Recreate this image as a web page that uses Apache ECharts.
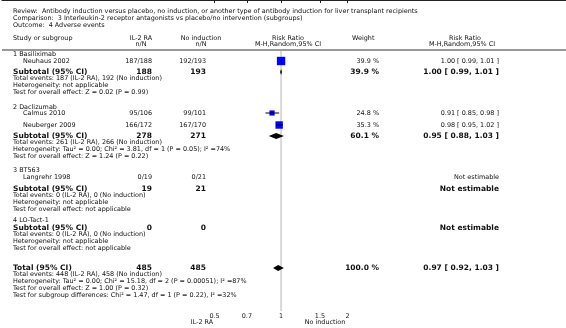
<!DOCTYPE html>
<html>
<head>
<meta charset="utf-8">
<script src="https://cdn.jsdelivr.net/npm/echarts@6/dist/echarts.min.js"></script>
<style>html,body{margin:0;padding:0;background:#fff}#forest{width:566px;height:328px}</style>
</head>
<body>
<div id="forest"></div>
<script>
// studies
var study_names = ['Neuhaus 2002', 'Calmus 2010', 'Neuberger 2009', 'Langrehr 1998'];
var il2_events = [187, 95, 166, 0];
var il2_total = [188, 106, 172, 19];
var noind_events = [192, 99, 167, 0];
var noind_total = [193, 101, 170, 21];
var study_weight = [39.9, 24.8, 35.3, null];
var study_rr = [1.00, 0.91, 0.98, null];
var study_lo = [0.99, 0.85, 0.95, null];
var study_hi = [1.01, 0.98, 1.02, null];

// subgroups
var group_names = ['1 Basiliximab', '2 Daclizumab', '3 BT563', '4 LO-Tact-1'];
var group_studies = [[0], [1, 2], [3], []];
var group_il2_total = [188, 278, 19, 0];
var group_noind_total = [193, 271, 21, 0];
var group_weight = [39.9, 60.1, null, null];
var group_rr = [1.00, 0.95, null, null];
var group_lo = [0.99, 0.88, null, null];
var group_hi = [1.01, 1.03, null, null];
var group_notes = [
    ['Total events: 187 (IL-2 RA), 192 (No induction)', 'Heterogeneity: not applicable', 'Test for overall effect: Z = 0.02 (P = 0.99)'],
    ['Total events: 261 (IL-2 RA), 266 (No induction)', 'Heterogeneity: Tau\u00b2 = 0.00; Chi\u00b2 = 3.81, df = 1 (P = 0.05); I\u00b2 =74%', 'Test for overall effect: Z = 1.24 (P = 0.22)'],
    ['Total events: 0 (IL-2 RA), 0 (No induction)', 'Heterogeneity: not applicable', 'Test for overall effect: not applicable'],
    ['Total events: 0 (IL-2 RA), 0 (No induction)', 'Heterogeneity: not applicable', 'Test for overall effect: not applicable']
];

// overall
var total_il2 = 485;
var total_noind = 485;
var total_weight = 100.0;
var total_rr = 0.97;
var total_lo = 0.92;
var total_hi = 1.03;
var total_notes = [
    'Total events: 448 (IL-2 RA), 458 (No induction)',
    'Heterogeneity: Tau\u00b2 = 0.00; Chi\u00b2 = 15.18, df = 2 (P = 0.00051); I\u00b2 =87%',
    'Test for overall effect: Z = 1.00 (P = 0.32)',
    'Test for subgroup differences: Chi\u00b2 = 1.47, df = 1 (P = 0.22), I\u00b2 =32%'
];

var tick_values = [0.5, 0.7, 1, 1.5, 2];
var tick_labels = ['0.5', '0.7', '1', '1.5', '2'];

// layout (row positions, px from top)
var group_label_y = [54, 107, 170, 220];
var study_y = [61, 113, 125, 177];
var subtotal_y = [72, 136, 189, 228];
var total_y = 268;
var note_step = 6.8;
var ref_top = 51, ref_bottom = 311;
var col_name = 13, col_study = 23, col_il2 = 152, col_noind = 206, col_weight = 379, col_rr = 499;
var FONT = '"DejaVu Sans"';
var small = 6.45, big = 7.5;

function fmtRR(rr, lo, hi) {
    return rr.toFixed(2) + ' [ ' + lo.toFixed(2) + ', ' + hi.toFixed(2) + ' ]';
}

var texts = [];
function txt(text, x, y, align, bold, size) {
    texts.push({
        type: 'text', x: x, y: y, silent: true,
        style: {
            text: text, fill: '#111',
            font: (bold ? 'bold ' : '') + size + 'px ' + FONT,
            textAlign: align, textVerticalAlign: 'middle', align: align, verticalAlign: 'middle'
        }
    });
}

txt('Review:  Antibody induction versus placebo, no induction, or another type of antibody induction for liver transplant recipients', col_name, 11, 'left', false, small);
txt('Comparison:  3 Interleukin-2 receptor antagonists vs placebo/no intervention (subgroups)', col_name, 18, 'left', false, small);
txt('Outcome:  4 Adverse events', col_name, 25, 'left', false, small);

txt('Study or subgroup', col_name, 38, 'left', false, small);
txt('IL-2 RA', 141, 38, 'center', false, small);
txt('n/N', 141, 44, 'center', false, small);
txt('No induction', 201, 38, 'center', false, small);
txt('n/N', 201, 44, 'center', false, small);
txt('Risk Ratio', 288, 38, 'center', false, small);
txt('M-H,Random,95% CI', 288, 44, 'center', false, small);
txt('Weight', 352, 38, 'left', false, small);
txt('Risk Ratio', 465, 38, 'center', false, small);
txt('M-H,Random,95% CI', 462, 44, 'center', false, small);

group_names.forEach(function (g, gi) {
    txt(g, col_name, group_label_y[gi], 'left', false, small);
    group_studies[gi].forEach(function (si) {
        var y = study_y[si];
        txt(study_names[si], col_study, y, 'left', false, small);
        txt(il2_events[si] + '/' + il2_total[si], col_il2, y, 'right', false, small);
        txt(noind_events[si] + '/' + noind_total[si], col_noind, y, 'right', false, small);
        if (study_weight[si] != null) txt(study_weight[si].toFixed(1) + ' %', col_weight, y, 'right', false, small);
        txt(study_rr[si] != null ? fmtRR(study_rr[si], study_lo[si], study_hi[si]) : 'Not estimable', col_rr, y, 'right', false, small);
    });
    var sy = subtotal_y[gi];
    txt('Subtotal (95% CI)', col_name, sy, 'left', true, big);
    txt(String(group_il2_total[gi]), col_il2, sy, 'right', true, big);
    txt(String(group_noind_total[gi]), col_noind, sy, 'right', true, big);
    if (group_weight[gi] != null) txt(group_weight[gi].toFixed(1) + ' %', col_weight, sy, 'right', true, big);
    txt(group_rr[gi] != null ? fmtRR(group_rr[gi], group_lo[gi], group_hi[gi]) : 'Not estimable', col_rr, sy, 'right', true, big);
    group_notes[gi].forEach(function (n, k) {
        txt(n, col_name, sy + note_step * (k + 1), 'left', false, small);
    });
});

txt('Total (95% CI)', col_name, total_y, 'left', true, big);
txt(String(total_il2), col_il2, total_y, 'right', true, big);
txt(String(total_noind), col_noind, total_y, 'right', true, big);
txt(total_weight.toFixed(1) + ' %', col_weight, total_y, 'right', true, big);
txt(fmtRR(total_rr, total_lo, total_hi), col_rr, total_y, 'right', true, big);
total_notes.forEach(function (n, k) {
    txt(n, col_name, total_y + note_step * (k + 1), 'left', false, small);
});

txt('IL-2 RA', 202, 322, 'center', false, small);
txt('No induction', 325, 322, 'center', false, small);

texts.push({
    type: 'line', silent: true,
    shape: { x1: 2, y1: 50, x2: 566, y2: 50 },
    style: { stroke: '#999', lineWidth: 2 }
});

// series data (log scale)
var studyData = [];
study_rr.forEach(function (rr, i) {
    if (rr == null) return;
    studyData.push([Math.log(rr), Math.log(study_lo[i]), Math.log(study_hi[i]), study_y[i], study_weight[i]]);
});
var diamondData = [];
group_rr.forEach(function (rr, i) {
    if (rr == null) return;
    diamondData.push([Math.log(rr), Math.log(group_lo[i]), Math.log(group_hi[i]), subtotal_y[i]]);
});
diamondData.push([Math.log(total_rr), Math.log(total_lo), Math.log(total_hi), total_y]);

var tickLogs = tick_values.map(Math.log);

var chartDom = document.getElementById('forest');
var myChart = echarts.init(chartDom);
var option;

option = {
    animation: false,
    grid: { left: 2, right: 0, top: 0, bottom: 17, containLabel: false, outerBoundsMode: 'none' },
    xAxis: {
        type: 'value',
        min: Math.log(0.0545),
        max: Math.log(19.5),
        axisLine: { show: true, lineStyle: { color: '#222', width: 1 } },
        axisTick: { show: true, customValues: tickLogs, length: 3, lineStyle: { color: '#222' } },
        axisLabel: {
            customValues: tickLogs, margin: 2, fontSize: small, color: '#222', fontFamily: 'DejaVu Sans',
            formatter: function (v) {
                for (var i = 0; i < tickLogs.length; i++) {
                    if (Math.abs(tickLogs[i] - v) < 1e-6) return tick_labels[i];
                }
                return '';
            }
        },
        splitLine: { show: false }
    },
    yAxis: { type: 'value', min: 0, max: ref_bottom, inverse: true, show: false },
    graphic: { elements: texts },
    series: [
        {
            type: 'custom', z: 1, silent: true,
            data: [[Math.log(1)]],
            renderItem: function (params, api) {
                var a = api.coord([api.value(0), ref_top]);
                var b = api.coord([api.value(0), ref_bottom]);
                return { type: 'line', shape: { x1: a[0], y1: a[1], x2: b[0], y2: b[1] }, style: { stroke: '#d9d9d9', lineWidth: 2 } };
            }
        },
        {
            type: 'custom', z: 3, silent: true,
            data: studyData,
            renderItem: function (params, api) {
                var c = api.coord([api.value(0), api.value(3)]);
                var lo = api.coord([api.value(1), api.value(3)]);
                var hi = api.coord([api.value(2), api.value(3)]);
                var s = api.value(4) * 0.21;
                return {
                    type: 'group', children: [
                        { type: 'rect', shape: { x: c[0] - s / 2, y: c[1] - s / 2, width: s, height: s }, style: { fill: '#0000ff' } },
                        { type: 'line', shape: { x1: lo[0], y1: c[1], x2: hi[0], y2: c[1] }, style: { stroke: '#000', lineWidth: 1 } }
                    ]
                };
            }
        },
        {
            type: 'custom', z: 3, silent: true,
            data: diamondData,
            renderItem: function (params, api) {
                var c = api.coord([api.value(0), api.value(3)]);
                var lo = api.coord([api.value(1), api.value(3)]);
                var hi = api.coord([api.value(2), api.value(3)]);
                var h = 3;
                return {
                    type: 'polygon',
                    shape: { points: [[lo[0], c[1]], [c[0], c[1] - h], [hi[0], c[1]], [c[0], c[1] + h]] },
                    style: { fill: '#000' }
                };
            }
        }
    ]
};

option && myChart.setOption(option);
</script>
</body>
</html>
